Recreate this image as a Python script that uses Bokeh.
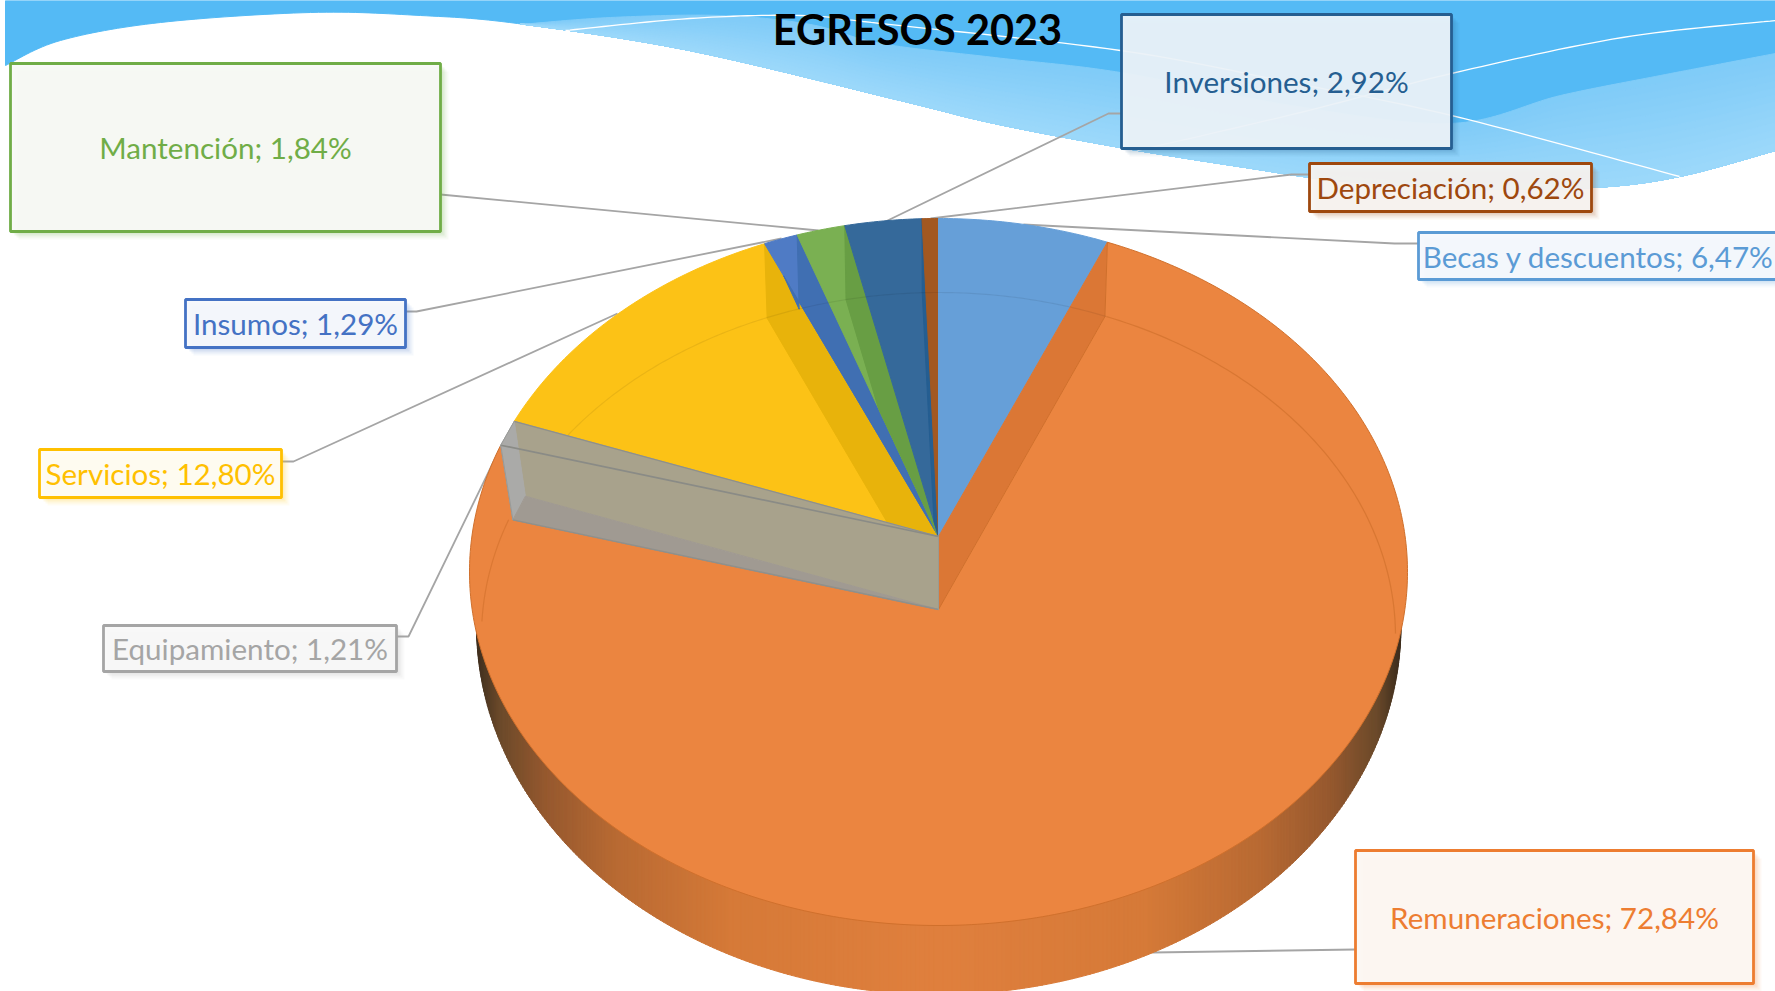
import math
import numpy as np
from bokeh.plotting import figure
from bokeh.models import Range1d
from bokeh.core.properties import value
from bokeh.embed import file_html
from bokeh.resources import INLINE

# ---- data (clockwise from 12 o'clock) ----
categories = ["Becas y descuentos", "Remuneraciones", "Equipamiento", "Servicios",
              "Insumos", "Mantención", "Inversiones", "Depreciación"]
shares = [6.47, 72.84, 1.21, 12.80, 1.29, 1.84, 2.92, 0.62]
title_text = "EGRESOS 2023"

series_colors = ["#5B9BD5", "#ED7D31", "#A5A5A5", "#FFC000", "#4472C4", "#70AD47", "#255E91", "#9E480E"]
top_colors = ["#669FD8", "#EB8540", "#A8A28C", "#FCC216", "#4F7BC5", "#7AB052", "#35699A", "#A25821"]
wall_colors = ["#669FD8", "#DB7735", "#A09A92", "#E8B30B", "#406FB2", "#689E44", "#255E91", "#9C5220"]

# label boxes: left, right, top, bottom in image pixels
boxes = [(1418, 1790, 232, 279), (1355, 1753, 850, 983), (103, 396, 625, 671), (39, 281, 449, 497),
         (185, 405, 299, 347), (10, 440, 63, 231), (1121, 1451, 14, 148), (1309, 1591, 163, 211)]
box_tint = ["#F6F9FD", "#FCF8F5", "#F9F9F9", "#FEFCF5", "#F6F8FC", "#F8FAF6", "#F0F5FA", "#F7F5F3"]
leaders = [([1418, 1394, 1023], [243, 243, 224]), ([1355, 1152], [949, 952]),
           ([396, 408, 500], [636, 636, 447]), ([281, 293, 617], [461, 461, 313]),
           ([405, 416, 781], [311, 311, 238]), ([440, 818], [194, 230]),
           ([1121, 1108, 883], [113, 113, 222]), ([1309, 1291, 930], [174, 174, 218])]
label_x = [1598, 1554, 249.5, 160, 295, 225, 1286, 1450]

# pie geometry
CX, K = 938.0, 0.75
A1, A2 = 536.0, 609.0
RIM = (571.5, 469.0, 353.5)
INNER = (636.0, 457.0, 344.0)
LOWER = (626.0, 462.0, 368.0)


def ray(ay, deg, ell):
    cy, rx, ry = ell
    t = math.radians(deg)
    dx, dy = math.sin(t), -K * math.cos(t)
    o = ay - cy
    a = (dx / rx) ** 2 + (dy / ry) ** 2
    b = 2 * o * dy / ry ** 2
    c = (o / ry) ** 2 - 1
    s = (-b + math.sqrt(b * b - 4 * a * c)) / (2 * a)
    return CX + dx * s, ay + dy * s


def rim(d):
    return ray(A1, d, RIM)


def inner(d):
    return ray(A2, d, INNER)


def cut(d):
    x, y = inner(d)
    return CX + (x - CX) * 0.99, y


def meet(p1, p2, p3, p4):
    x1, y1, x2, y2 = *p1, *p2
    x3, y3, x4, y4 = *p3, *p4
    den = (x1 - x2) * (y3 - y4) - (y1 - y2) * (x3 - x4)
    t = ((x1 - x3) * (y3 - y4) - (y1 - y3) * (x3 - x4)) / den
    return x1 + t * (x2 - x1), y1 + t * (y2 - y1)


def arc(f, d0, d1, n=None):
    n = n or max(2, int(abs(d1 - d0) * 1.5) + 2)
    return [f(d0 + (d1 - d0) * i / (n - 1)) for i in range(n)]


def smooth(pts, n=16):
    out = []
    P = [pts[0]] + list(pts) + [pts[-1]]
    for i in range(1, len(P) - 2):
        p0, p1, p2, p3 = P[i - 1], P[i], P[i + 1], P[i + 2]
        for j in range(n):
            t = j / n
            out.append(tuple(0.5 * (2 * p1[k] + (p2[k] - p0[k]) * t + (2 * p0[k] - 5 * p1[k] + 4 * p2[k] - p3[k]) * t * t
                                    + (3 * p1[k] - p0[k] - 3 * p2[k] + p3[k]) * t ** 3) for k in (0, 1)))
    out.append(pts[-1])
    return out


def poly(pts, color, line=None, alpha=1.0, lw=1.0):
    p.patch([q[0] for q in pts], [q[1] for q in pts], fill_color=color, fill_alpha=alpha,
            line_color=line or color, line_width=lw, line_alpha=1.0 if line else alpha)


def lerp_color(stops, v):
    for (a, ca), (b, cb) in zip(stops, stops[1:]):
        if v <= b:
            f = (v - a) / (b - a)
            rgb = [int(int(ca[i:i + 2], 16) * (1 - f) + int(cb[i:i + 2], 16) * f) for i in (1, 3, 5)]
            return "#%02X%02X%02X" % tuple(rgb)
    return stops[-1][1]


p = figure(width=1775, height=991, x_range=Range1d(0, 1775), y_range=Range1d(991, 0),
           output_backend="svg", toolbar_location=None, min_border=0)
p.axis.visible = False
p.grid.visible = False
p.outline_line_color = None
p.background_fill_color = "#FFFFFF"
p.border_fill_color = "#FFFFFF"

# ---- header waves ----
white_edge = smooth([(5, 65), (60, 40), (160, 22), (310, 12), (420, 15), (517, 23), (689, 50), (900, 100), (994, 123),
                     (1120, 147), (1245, 167), (1337, 180), (1470, 188), (1593, 187), (1679, 176), (1775, 150)])
poly([(5, 0)] + white_edge + [(1775, 0)], "#54BAF5")
mid_edge = smooth([(520, 24), (610, 17), (720, 15), (810, 24), (880, 43), (994, 57), (1120, 72), (1290, 105), (1450, 123),
                   (1560, 95), (1660, 75), (1775, 53)])
wx = np.array([q[0] for q in white_edge])
wy = np.array([q[1] for q in white_edge])
mx = np.array([q[0] for q in mid_edge])
my = np.array([q[1] for q in mid_edge])
band_x = np.arange(520.0, 1776.0, 5.0)
band_top = np.interp(band_x, mx, my)
band_low = np.interp(band_x, wx, wy)
grad = [(0.0, "#80CCF8"), (1.0, "#9ED9FB")]
layers = 14
for i in range(layers):
    f = i / layers
    upper = band_top + (band_low - band_top) * f
    poly(list(zip(band_x, upper)) + list(zip(band_x[::-1], band_low[::-1])), lerp_color(grad, f))
p.line(*zip(*smooth([(565, 30), (689, 18), (800, 15), (880, 23), (1120, 50), (1290, 82), (1451, 115), (1679, 176)])),
       line_color="#FFFFFF", line_width=1.3)
p.line(*zip(*smooth([(1137, 150), (1300, 112), (1451, 73), (1622, 37), (1775, 20)])),
       line_color="#FFFFFF", line_width=1.3)

# ---- leader lines ----
for xs, ys in leaders:
    p.line(xs, ys, line_color="#A5A5A5", line_width=1.8)

# ---- side wall of the disc ----
stops = [(0.0, "#E0803E"), (0.45, "#D67A38"), (0.7, "#B86A33"), (0.85, "#96592F"), (0.95, "#6B4A2B"), (1.0, "#3E2E1E")]
lc, lrx, lry = LOWER
n_strips = 320


def lower_y(x):
    u = max(-1.0, min(1.0, (x - CX) / lrx))
    return lc + lry * math.sqrt(max(0.0, 1 - u * u))


for i in range(n_strips):
    x0 = CX - lrx * math.cos(math.pi * i / n_strips)
    x1 = CX - lrx * math.cos(math.pi * (i + 1) / n_strips)
    col = lerp_color(stops, abs((x0 + x1) / 2 - CX) / lrx)
    poly([(x0, 600), (x1 + 0.5, 600), (x1 + 0.5, lower_y(x1)), (x0, lower_y(x0))], col)

# ---- slices ----
total = sum(shares)
b = [0.0]
for v in shares:
    b.append(b[-1] + v * 360 / total)

# back slices: bright top, then the cut face kept inside the slice's own wedge
for idx in [3, 4, 5, 6, 7]:
    d0, d1 = b[idx], b[idx + 1]
    poly([(CX, A1)] + arc(rim, d0, d1), top_colors[idx])
    if d1 < 359.9:
        q = cut(d1)
        x = meet(q, (CX, A2), (CX, A1), rim(d0))
        poly([rim(d1), q, x, (CX, A1)], wall_colors[idx])
poly([(CX, A1)] + arc(rim, b[0], b[1]), top_colors[0])

# big slice: cut face, then top
poly([rim(b[1]), cut(b[1]), (CX, A2), (CX, A1)], wall_colors[1])
poly(arc(rim, b[1], b[2]) + [cut(b[2]), (CX, A2), cut(b[1])], top_colors[1], line="#D0702C", lw=1.0)

# small grey slice
T1, T2, I1, I2 = rim(b[3]), rim(b[2]), cut(b[3]), cut(b[2])
poly([T1, I1, (CX, A2), (CX, A1)], top_colors[2])
poly([T1, I1, I2, T2], "#AAAAA8")
poly([I1, (CX, A2), I2], wall_colors[2])
p.line([T1[0], CX], [T1[1], A1], line_color="#8F908A", line_width=1.2)
p.line([T2[0], CX], [T2[1], A1], line_color="#8A8B86", line_width=1.6)
p.line([I2[0], CX], [I2[1], A2], line_color="#8F908C", line_width=1.4)
p.line([T1[0], T2[0], I2[0]], [T1[1], T2[1], I2[1]], line_color="#989A98", line_width=1.0)
p.line([CX, CX], [A1, A2], line_color="#9A9A90", line_width=1.0)

# faint inner rim seen through the surface (starts where it leaves the grey slice)
start = b[3]
while True:
    q = inner(start)
    edge_y = T1[1] + (A1 - T1[1]) * (q[0] - T1[0]) / (CX - T1[0])
    if q[1] <= edge_y:
        break
    start += 0.2
pts = arc(inner, start, 360 + b[1], 160)
p.line([q[0] for q in pts], [q[1] for q in pts], line_color="#000000", line_alpha=0.07, line_width=1.2)
pts = arc(inner, b[1], 94, 80)
p.line([q[0] for q in pts], [q[1] for q in pts], line_color="#D0702C", line_alpha=0.7, line_width=1.2)
pts = arc(inner, b[2], 268, 30)
p.line([q[0] for q in pts], [q[1] for q in pts], line_color="#D0702C", line_alpha=0.6, line_width=1.2)

# ---- label boxes ----
for i, name in enumerate(categories):
    l, r, t, bt = boxes[i]
    for off, al in ((8, 0.05), (6, 0.07), (4, 0.10), (2, 0.12)):
        p.quad(left=l + off, right=r + off, top=t + off, bottom=bt + off, fill_color=series_colors[i],
               fill_alpha=al, line_color=None)
    p.quad(left=l, right=r, top=t, bottom=bt, fill_color=box_tint[i], fill_alpha=0.92,
           line_color=series_colors[i], line_width=2.8)
    txt = f"{name}; {shares[i]:.2f}%".replace(".", ",")
    p.text([label_x[i]], [(t + bt) / 2], text=[txt], text_font=value("Lato"), text_font_size="29.6px",
           text_color=series_colors[i], text_align="center", text_baseline="middle")

p.text([917], [28], text=[title_text], text_font=value("Lato"), text_font_style="bold", text_font_size="41.5px",
       text_color="#000000", text_align="center", text_baseline="middle")

open("out.html", "w").write(file_html(p, INLINE))
